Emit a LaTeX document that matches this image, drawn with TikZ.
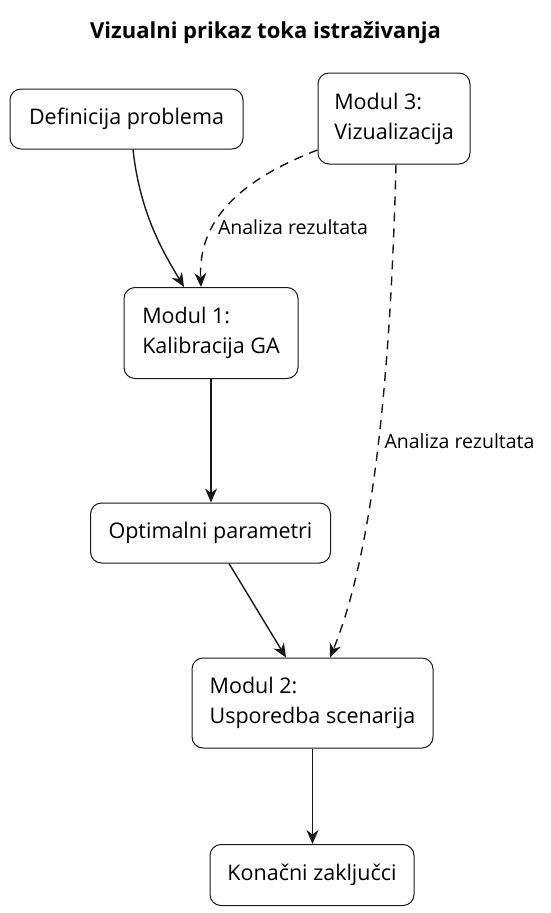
\documentclass[tikz,border=0pt]{standalone}
\usepackage{fontspec}
\setmainfont{Open Sans}
\usetikzlibrary{arrows.meta,calc}
\definecolor{ink}{HTML}{181818}
\tikzset{
  box/.style={draw=ink, line width=1pt, rounded corners=11pt, fill=white, inner sep=0pt,
    font=\fontsize{21.5}{30}\selectfont, text=black},
  onebox/.style={box, align=center},
  twobox/.style={box, align=left},
  conn/.style={draw=ink, line width=1.4pt, -{Stealth[length=14pt,width=12pt,inset=4.5pt]}},
  dconn/.style={conn, dash pattern=on 9pt off 7pt},
  lbl/.style={font=\fontsize{19.5}{22}\selectfont, text=black, inner sep=0pt},
}
\begin{document}
\begin{tikzpicture}[x=1pt,y=-1pt]
\useasboundingbox (0,0) rectangle (550,913);
\node[font=\bfseries\fontsize{22}{26}\selectfont] (title) at (265.5,33) {Vizualni prikaz toka istraživanja};

\node[onebox, minimum width=233pt, minimum height=60pt] (def) at (126.5,119) {Definicija problema};
\node[twobox, minimum width=152pt, minimum height=91pt] (m3) at (394,118.5) {Modul 3:\\Vizualizacija};
\node[twobox, minimum width=174pt, minimum height=91pt] (m1) at (211,333) {Modul 1:\\Kalibracija GA};
\node[onebox, minimum width=240pt, minimum height=60pt] (opt) at (210.5,533) {Optimalni parametri};
\node[twobox, minimum width=241pt, minimum height=90pt] (m2) at (312.5,703) {Modul 2:\\Usporedba scenarija};
\node[onebox, minimum width=204pt, minimum height=61pt] (kon) at (312,875) {Konačni zaključci};

\draw[conn] ([xshift=6.5pt]def.south) .. controls (140,215) and (165,255) .. ([xshift=-27pt]m1.north);
\draw[dconn] ([yshift=-31.5pt]m3.west) .. controls (240,180) and (198,220) .. ([xshift=-10pt]m1.north);
\node[lbl] (l1) at (293,227) {Analiza rezultata};
\draw[dconn] ([xshift=2pt]m3.south) .. controls (390,400) and (370,560) .. ([xshift=17.5pt]m2.north);
\node[lbl] (l2) at (459.5,441) {Analiza rezultata};
\draw[conn] (m1.south) -- (opt.north -| m1.south);
\draw[conn] ([xshift=18.5pt]opt.south) -- ([xshift=-26.5pt]m2.north);
\draw[conn] (m2.south) -- (kon.north -| m2.south);
\end{tikzpicture}
\end{document}
